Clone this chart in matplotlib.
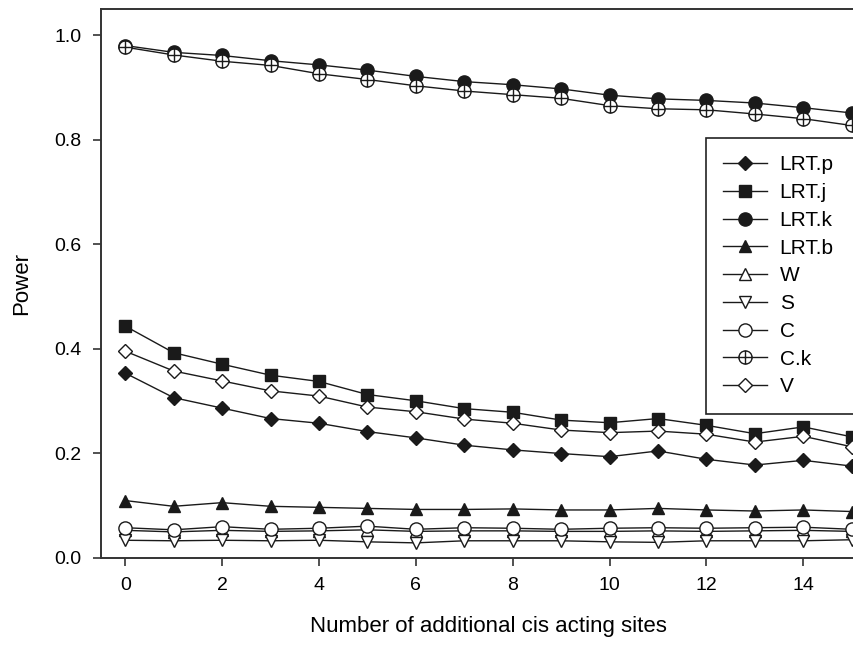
import matplotlib
matplotlib.use('Agg')
import matplotlib.pyplot as plt
from matplotlib.path import Path

plt.rcParams['font.family'] = ['Liberation Sans', 'DejaVu Sans']

# number of additional cis acting sites
sites = list(range(16))

lrt_p = [0.353, 0.306, 0.286, 0.266, 0.257, 0.241, 0.229, 0.215,
         0.206, 0.199, 0.193, 0.204, 0.188, 0.177, 0.186, 0.175]
lrt_j = [0.443, 0.392, 0.370, 0.349, 0.337, 0.312, 0.300, 0.285,
         0.278, 0.263, 0.258, 0.266, 0.253, 0.237, 0.250, 0.231]
lrt_k = [0.980, 0.967, 0.961, 0.951, 0.943, 0.933, 0.921, 0.911,
         0.905, 0.897, 0.885, 0.878, 0.875, 0.870, 0.861, 0.851]
lrt_b = [0.109, 0.098, 0.105, 0.098, 0.096, 0.094, 0.092, 0.092,
         0.093, 0.091, 0.091, 0.094, 0.091, 0.089, 0.091, 0.088]
w_stat = [0.052, 0.049, 0.052, 0.050, 0.051, 0.053, 0.050, 0.051,
          0.051, 0.050, 0.050, 0.051, 0.050, 0.051, 0.052, 0.050]
s_stat = [0.033, 0.032, 0.033, 0.032, 0.033, 0.030, 0.028, 0.032,
          0.032, 0.032, 0.030, 0.029, 0.032, 0.032, 0.032, 0.034]
c_stat = [0.057, 0.053, 0.059, 0.054, 0.056, 0.060, 0.054, 0.057,
          0.056, 0.054, 0.056, 0.057, 0.056, 0.057, 0.058, 0.054]
c_k = [0.977, 0.962, 0.950, 0.942, 0.926, 0.915, 0.903, 0.893,
       0.886, 0.879, 0.865, 0.859, 0.857, 0.849, 0.840, 0.827]
v_stat = [0.395, 0.357, 0.338, 0.319, 0.309, 0.288, 0.279, 0.265,
          0.257, 0.244, 0.239, 0.242, 0.236, 0.221, 0.232, 0.212]

# circle with a cross inside, for C.k
oplus = Path.make_compound_path(
    Path.unit_circle(),
    Path([[-1, 0], [1, 0]], [Path.MOVETO, Path.LINETO]),
    Path([[0, -1], [0, 1]], [Path.MOVETO, Path.LINETO]))

line_col = '#1a1a1a'
series = [
    ('LRT.p', lrt_p, 'D', 7.5, line_col),
    ('LRT.j', lrt_j, 's', 9, line_col),
    ('LRT.k', lrt_k, 'o', 9.5, line_col),
    ('LRT.b', lrt_b, '^', 9, line_col),
    ('W', w_stat, '^', 9, 'white'),
    ('S', s_stat, 'v', 9, 'white'),
    ('C', c_stat, 'o', 9.5, 'white'),
    ('C.k', c_k, oplus, 9.5, 'white'),
    ('V', v_stat, 'D', 7.5, 'white'),
]

fig = plt.figure(figsize=(8.54, 6.47), dpi=100)
ax = fig.add_axes([101 / 854, 1 - 557.5 / 647, 775 / 854, 548.5 / 647])

handles = []
for label, vals, marker, ms, face in series:
    h, = ax.plot(sites, vals, color=line_col, lw=1.0, marker=marker,
                 markersize=ms, markerfacecolor=face,
                 markeredgecolor=line_col, markeredgewidth=1.0,
                 label=label, clip_on=False)
    handles.append(h)

ax.set_xlim(-0.5, 15.5)
ax.set_ylim(0, 1.05)
ax.set_xticks(range(0, 16, 2))
ax.set_yticks([0.0, 0.2, 0.4, 0.6, 0.8, 1.0])
ax.set_yticklabels(['0.0', '0.2', '0.4', '0.6', '0.8', '1.0'])
ax.tick_params(axis='both', direction='out', length=6, width=1.2,
               color='#333333', labelsize=14, pad=8)
ax.tick_params(top=False, right=False)
for sp in ax.spines.values():
    sp.set_color('#333333')
    sp.set_linewidth(1.4)

ax.set_xlabel('Number of additional cis acting sites', fontsize=16, labelpad=16)
ax.set_ylabel('Power', fontsize=16, labelpad=16)

# legend box runs past the right edge of the figure, as in the original
leg_top = 1 - 137.7 / 647
leg = fig.legend(handles=handles, loc='upper left', mode='expand',
                 bbox_to_anchor=(705.7 / 854, 0.0, 0.2, leg_top),
                 fontsize=15, frameon=True, fancybox=False,
                 edgecolor='#222222', framealpha=1, borderpad=0.85,
                 labelspacing=0.42, handlelength=2.1, handletextpad=0.6,
                 borderaxespad=0)
leg.get_frame().set_linewidth(1.2)

fig.savefig('out.png', dpi=100)
